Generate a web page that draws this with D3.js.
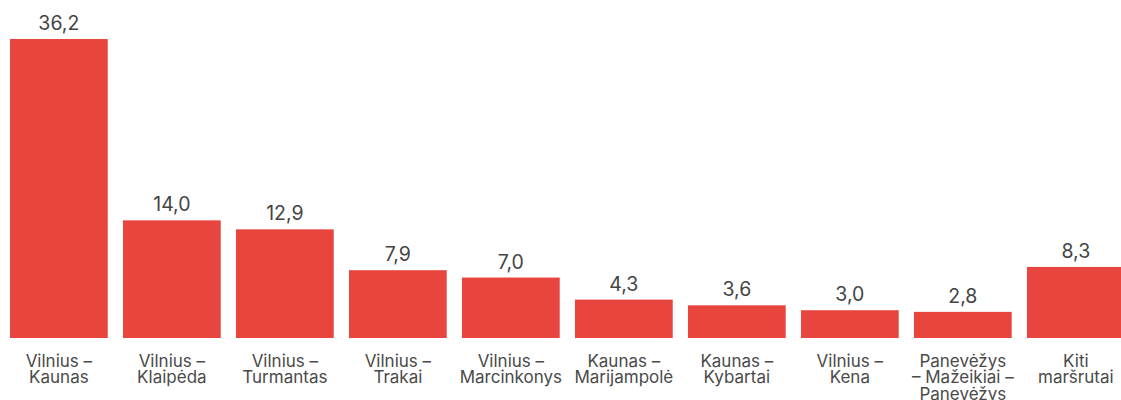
<!DOCTYPE html>
<html>
<head>
<meta charset="utf-8">
<script src="https://cdn.jsdelivr.net/npm/d3@7"></script>
<style>
  body { margin: 0; background: #fff; }
  svg { display: block; font-family: Inter, "Open Sans", sans-serif; }
  .value { font-size: 19.5px; fill: #444; text-anchor: middle; }
  .cat { font-size: 17px; fill: #4a4a4a; text-anchor: middle; }
</style>
</head>
<body>
<div id="canvas"></div>
<script>
// routes (label lines) and values
var categories = [
    ["Vilnius –", "Kaunas"],
    ["Vilnius –", "Klaipėda"],
    ["Vilnius –", "Turmantas"],
    ["Vilnius –", "Trakai"],
    ["Vilnius –", "Marcinkonys"],
    ["Kaunas –", "Marijampolė"],
    ["Kaunas –", "Kybartai"],
    ["Vilnius –", "Kena"],
    ["Panevėžys", "– Mažeikiai –", "Panevėžys"],
    ["Kiti", "maršrutai"]
];
var values = [36.2, 14.0, 12.9, 7.9, 7.0, 4.3, 3.6, 3.0, 2.8, 8.3];

var width = 1121, height = 400;

var svg = d3.select("#canvas").append("svg")
    .attr("width", width)
    .attr("height", height);

var x = d3.scaleBand()
    .domain(d3.range(values.length))
    .range([10, 1124.7])
    .paddingInner(0.135)
    .paddingOuter(0);

var y = d3.scaleLinear()
    .domain([-0.4, 36.2])
    .range([338, 39]);

svg.selectAll("rect.bar")
    .data(values)
  .enter().append("rect")
    .attr("class", "bar")
    .attr("x", function(d, i) { return x(i); })
    .attr("y", function(d) { return y(d); })
    .attr("width", x.bandwidth())
    .attr("height", function(d) { return y(-0.4) - y(d); })
    .attr("fill", "#e8453e");

svg.selectAll("text.value")
    .data(values)
  .enter().append("text")
    .attr("class", "value")
    .attr("x", function(d, i) { return x(i) + x.bandwidth() / 2; })
    .attr("y", function(d) { return y(d) - 9; })
    .text(function(d) { return d.toFixed(1).replace(".", ","); });

var cats = svg.selectAll("text.cat")
    .data(categories)
  .enter().append("text")
    .attr("class", "cat")
    .attr("x", function(d, i) { return x(i) + x.bandwidth() / 2; })
    .attr("y", 366.5);

cats.selectAll("tspan")
    .data(function(d) { return d; })
  .enter().append("tspan")
    .attr("x", function() { return d3.select(this.parentNode).attr("x"); })
    .attr("dy", function(d, j) { return j === 0 ? 0 : 16.8; })
    .text(function(d) { return d; });
</script>
</body>
</html>
